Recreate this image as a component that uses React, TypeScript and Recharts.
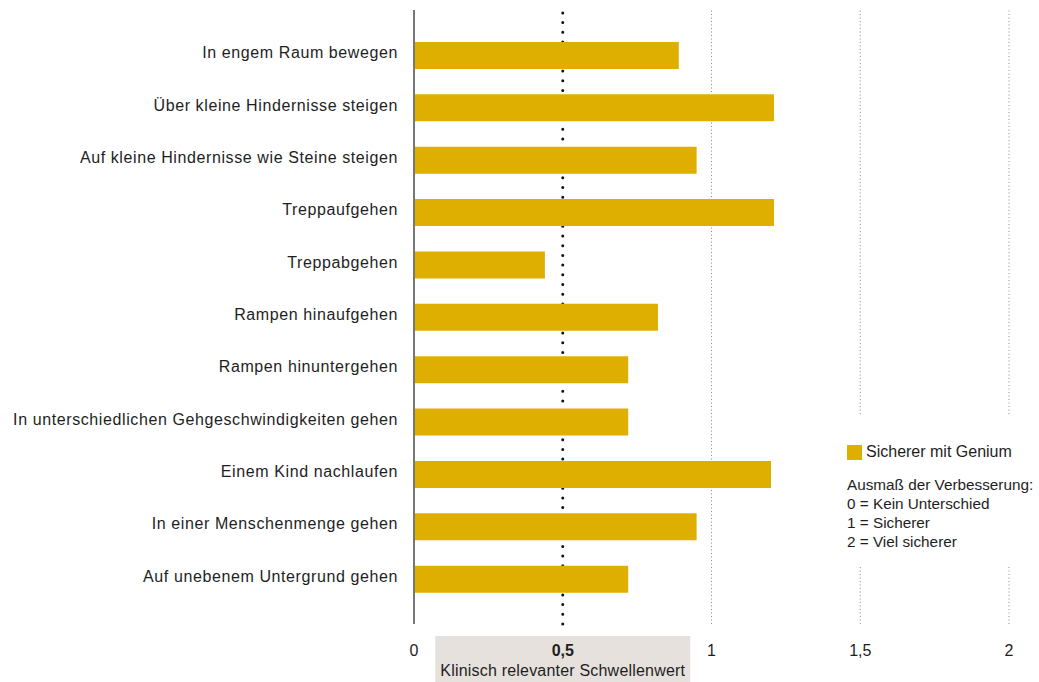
import React from 'react';
import { BarChart, Bar, XAxis, YAxis, ReferenceLine, Legend } from 'recharts';

const categories = [
  'In engem Raum bewegen',
  'Über kleine Hindernisse steigen',
  'Auf kleine Hindernisse wie Steine steigen',
  'Treppaufgehen',
  'Treppabgehen',
  'Rampen hinaufgehen',
  'Rampen hinuntergehen',
  'In unterschiedlichen Gehgeschwindigkeiten gehen',
  'Einem Kind nachlaufen',
  'In einer Menschenmenge gehen',
  'Auf unebenem Untergrund gehen',
];

const values = [0.89, 1.21, 0.95, 1.21, 0.44, 0.82, 0.72, 0.72, 1.2, 0.95, 0.72];

const xTicks = [0, 0.5, 1, 1.5, 2];
const gridValues = [1, 1.5, 2];
const threshold = 0.5;
const thresholdLabel = 'Klinisch relevanter Schwellenwert';
const seriesName = 'Sicherer mit Genium';
const legendNotes = [
  'Ausmaß der Verbesserung:',
  '0 = Kein Unterschied',
  '1 = Sicherer',
  '2 = Viel sicherer',
];

const data = categories.map((c, i) => ({ name: c, value: values[i] }));

const FONT = '"Liberation Sans", Arial, Helvetica, sans-serif';
const BAR = '#DFAF00';
const TEXT = '#1e1e1e';

const fmt = (v: number) => String(v).replace('.', ',');

const XTick = (props: any) => {
  const { x, y, payload } = props;
  const v = payload.value;
  if (v === threshold) {
    return (
      <g>
        <rect x={x - 127.5} y={y + 12} width={255} height={46} fill="#E6E1DD" />
        <text x={x} y={y + 32} textAnchor="middle" fontFamily={FONT} fontSize={16} fontWeight="bold" fill={TEXT}>
          {fmt(v)}
        </text>
        <text x={x} y={y + 52} textAnchor="middle" fontFamily={FONT} fontSize={16} letterSpacing={0.2} fill={TEXT}>
          {thresholdLabel}
        </text>
      </g>
    );
  }
  return (
    <text x={x} y={y + 32} textAnchor="middle" fontFamily={FONT} fontSize={16} fill={TEXT}>
      {fmt(v)}
    </text>
  );
};

const YTick = (props: any) => {
  const { x, y, payload } = props;
  return (
    <text x={x} y={y} dy={3} textAnchor="end" fontFamily={FONT} fontSize={16} letterSpacing={0.6} fill={TEXT}>
      {payload.value}
    </text>
  );
};

const LegendContent = () => (
  <div style={{ fontFamily: FONT, fontSize: 16, color: TEXT, background: '#fff', height: '100%', paddingTop: 28, boxSizing: 'border-box', whiteSpace: 'nowrap', overflow: 'visible' }}>
    <div style={{ display: 'flex', alignItems: 'center', marginLeft: 8 }}>
      <span style={{ display: 'inline-block', width: 15, height: 15, background: BAR, marginRight: 4 }} />
      <span>{seriesName}</span>
    </div>
    <div style={{ marginTop: 14, marginLeft: 8, lineHeight: '19px', fontSize: 15.3 }}>
      {legendNotes.map((t) => (
        <div key={t}>{t}</div>
      ))}
    </div>
  </div>
);

export default function App() {
  return (
    <div style={{ position: 'absolute', left: 0, top: 0, width: 1039, height: 682, background: '#fff', overflow: 'hidden' }}>
      <BarChart
        width={1039}
        height={682}
        data={data}
        layout="vertical"
        margin={{ top: 10, right: 30, bottom: 0, left: 0 }}
        barSize={27}
      >
        <XAxis
          type="number"
          domain={[0, 2]}
          ticks={xTicks}
          axisLine={false}
          tickLine={false}
          tickSize={0}
          tickMargin={0}
          height={58}
          interval={0}
          tick={<XTick />}
        />
        <YAxis
          type="category"
          dataKey="name"
          width={414}
          axisLine={{ stroke: '#777', strokeWidth: 2 }}
          tickLine={false}
          tickSize={0}
          tickMargin={16}
          interval={0}
          padding={{ top: 19, bottom: 19 }}
          tick={<YTick />}
        />
        {gridValues.map((g) => (
          <ReferenceLine key={g} x={g} stroke="#8a8a8a" strokeWidth={1} strokeDasharray="1 2.5" zIndex={-1} />
        ))}
        <ReferenceLine x={threshold} stroke="#111" strokeWidth={3} strokeDasharray="0 9.7" strokeLinecap="round" zIndex={-1} />
        <Bar dataKey="value" name={seriesName} fill={BAR} isAnimationActive={false} />
        <Legend
          layout="vertical"
          align="center"
          verticalAlign="middle"
          content={<LegendContent />}
          wrapperStyle={{ left: 839, top: 415, width: 200, height: 152 }}
        />
      </BarChart>
    </div>
  );
}
